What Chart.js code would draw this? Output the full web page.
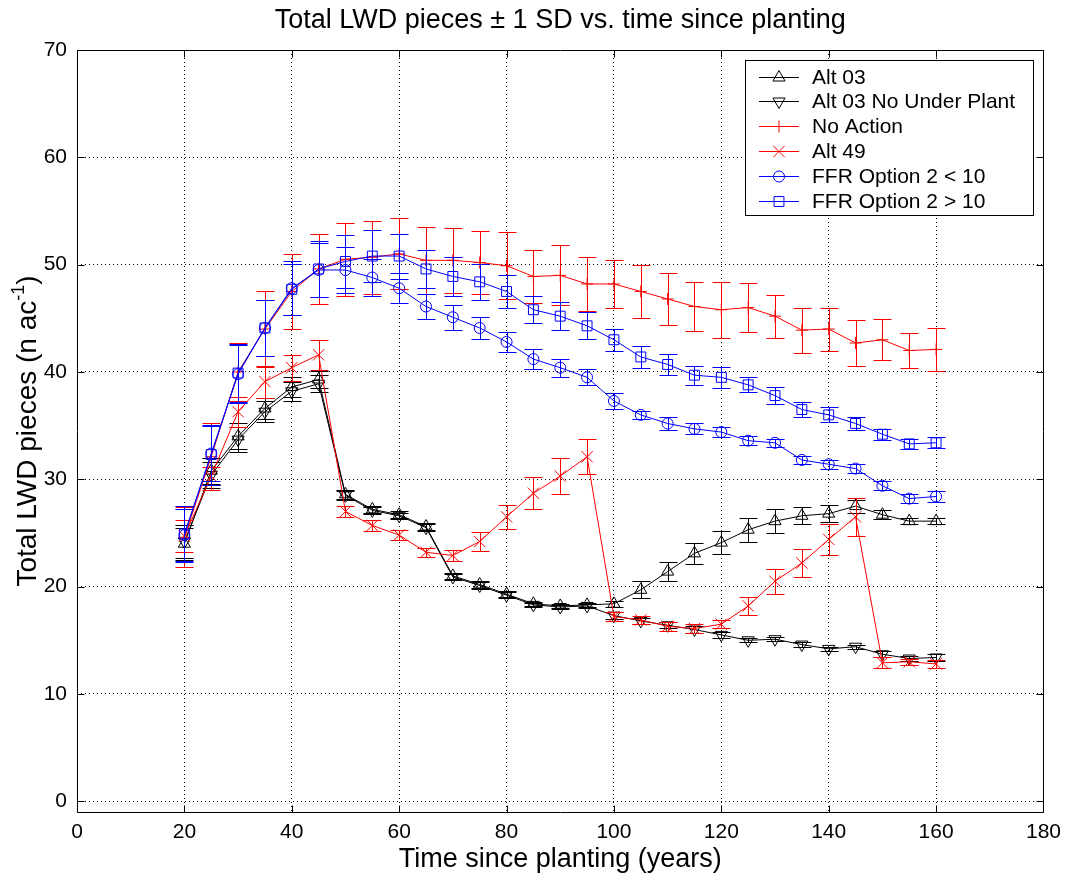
<!DOCTYPE html>
<html>
<head>
<meta charset="utf-8">
<script src="https://cdn.jsdelivr.net/npm/chart.js@4.4.0/dist/chart.umd.min.js"></script>
<style>
html, body { margin: 0; padding: 0; background: #fff; }
canvas { display: block; }
</style>
</head>
<body>
<canvas id="chart" width="1069" height="880"></canvas>
<script>
// years since planting, one sample every 5 years
const years = [20, 25, 30, 35, 40, 45, 50, 55, 60, 65, 70, 75, 80, 85, 90, 95,
    100, 105, 110, 115, 120, 125, 130, 135, 140, 145, 150, 155, 160]

const alt03 = [24.0, 30.8, 34.0, 36.6, 38.6, 39.3, 28.6, 27.2, 26.7, 25.6, 21.0, 20.2, 19.3, 18.4, 18.2, 18.3,
    18.4, 19.7, 21.4, 23.1, 24.1, 25.3, 26.1, 26.6, 26.8, 27.5, 26.7, 26.1, 26.1]
const alt03_sd = [1.5, 1.2, 1.2, 1.0, 0.9, 0.8, 0.4, 0.3, 0.3, 0.3, 0.3, 0.3, 0.3, 0.2, 0.2, 0.2,
    0.3, 0.8, 0.9, 1.0, 1.1, 1.1, 1.1, 0.8, 0.8, 0.6, 0.4, 0.3, 0.3]

const alt03_nup = [24.2, 30.4, 33.7, 36.3, 38.2, 38.9, 28.5, 27.1, 26.6, 25.5, 20.9, 20.1, 19.2, 18.3, 18.1, 18.2,
    17.3, 16.8, 16.4, 16.0, 15.5, 15.0, 15.1, 14.6, 14.2, 14.4, 13.7, 13.3, 13.4]
const alt03_nup_sd = [1.5, 1.2, 1.2, 1.0, 0.9, 0.8, 0.4, 0.3, 0.3, 0.3, 0.3, 0.3, 0.3, 0.2, 0.2, 0.2,
    0.3, 0.3, 0.3, 0.3, 0.3, 0.2, 0.2, 0.2, 0.2, 0.2, 0.3, 0.2, 0.3]

const no_action = [24.6, 32.1, 40.0, 44.0, 47.5, 49.6, 50.5, 50.7, 51.0, 50.4, 50.4, 50.2, 49.9, 48.9, 49.0, 48.2,
    48.2, 47.5, 46.8, 46.1, 45.8, 46.0, 45.2, 43.9, 44.0, 42.7, 43.0, 42.0, 42.1]
const no_action_sd = [2.8, 3.1, 2.7, 3.5, 3.5, 3.3, 3.4, 3.4, 3.3, 3.1, 3.0, 2.9, 3.1, 2.5, 2.8, 2.5,
    2.2, 2.5, 2.4, 2.3, 2.6, 2.3, 2.0, 2.1, 2.0, 2.1, 1.9, 1.6, 2.0]

const alt49 = [24.7, 30.3, 36.3, 39.1, 40.4, 41.6, 27.0, 25.7, 24.8, 23.2, 22.9, 24.2, 26.5, 28.7, 30.3, 32.1,
    17.2, 16.9, 16.3, 16.1, 16.5, 18.2, 20.5, 22.2, 24.4, 26.5, 12.9, 13.0, 12.8]
const alt49_sd = [1.5, 0.8, 1.4, 1.5, 1.2, 1.4, 0.5, 0.5, 0.5, 0.4, 0.5, 0.85, 1.15, 1.5, 1.7, 1.65,
    0.4, 0.4, 0.4, 0.4, 0.4, 0.8, 1.15, 1.3, 1.45, 1.8, 0.5, 0.3, 0.4]

const ffr_lt10 = [24.8, 32.4, 39.8, 44.1, 47.8, 49.5, 49.5, 48.8, 47.8, 46.1, 45.1, 44.1, 42.8, 41.2, 40.4, 39.5,
    37.3, 36.0, 35.2, 34.7, 34.4, 33.6, 33.4, 31.8, 31.4, 31.0, 29.4, 28.2, 28.4]
const ffr_lt10_sd = [2.4, 2.6, 2.7, 2.6, 2.5, 2.5, 2.1, 1.7, 1.4, 1.2, 1.15, 1.0, 0.9, 0.95, 0.85, 0.75,
    0.75, 0.4, 0.6, 0.5, 0.5, 0.4, 0.4, 0.4, 0.4, 0.4, 0.4, 0.4, 0.5]

const ffr_gt10 = [24.9, 32.3, 39.9, 44.1, 47.7, 49.6, 50.3, 50.8, 50.8, 49.6, 48.9, 48.4, 47.5, 45.8, 45.2, 44.3,
    43.0, 41.4, 40.7, 39.7, 39.5, 38.8, 37.8, 36.5, 36.0, 35.2, 34.2, 33.3, 33.4]
const ffr_gt10_sd = [2.6, 2.8, 2.7, 2.6, 2.4, 2.6, 2.5, 2.4, 2.1, 1.8, 1.8, 1.7, 1.5, 1.25, 1.3, 1.25,
    1.0, 1.0, 1.0, 0.9, 1.0, 0.7, 0.8, 0.7, 0.7, 0.6, 0.5, 0.5, 0.5]

const FONT = "'Liberation Sans', Arial, sans-serif"
const BLACK = '#000000'
const RED = '#ff0000'
const BLUE = '#0000ff'
const CLEAR = 'rgba(0,0,0,0)'

function series(label, values, sd, color, style, radius, rotation) {
    return {
        label: label,
        data: years.map((x, i) => ({ x: x, y: values[i] })),
        sd: sd,
        borderColor: color,
        borderWidth: 1,
        pointStyle: style,
        pointRadius: radius,
        pointRotation: rotation || 0,
        pointBorderColor: color,
        pointBackgroundColor: CLEAR,
        pointBorderWidth: 1,
        tension: 0,
        fill: false,
    }
}

const datasets = [
    series('Alt 03', alt03, alt03_sd, BLACK, 'triangle', 7),
    series('Alt 03 No Under Plant', alt03_nup, alt03_nup_sd, BLACK, 'triangle', 7, 180),
    series('No Action', no_action, no_action_sd, RED, 'cross', 6),
    series('Alt 49', alt49, alt49_sd, RED, 'crossRot', 8),
    series('FFR Option 2 < 10', ffr_lt10, ffr_lt10_sd, BLUE, 'circle', 5.5),
    series('FFR Option 2 > 10', ffr_gt10, ffr_gt10_sd, BLUE, 'rect', 7),
]
// later series are painted on top
datasets.forEach((d, i) => { d.order = datasets.length - i })

// vertical +/- 1 SD bars with caps, drawn right after each line
const error_bars = {
    id: 'error_bars',
    afterDatasetDraw(chart, args) {
        const ds = chart.data.datasets[args.index]
        if (!ds.sd) return
        const xs = chart.scales.x
        const ys = chart.scales.y
        const c = chart.ctx
        c.save()
        c.strokeStyle = ds.borderColor
        c.lineWidth = 1
        c.beginPath()
        ds.data.forEach((p, i) => {
            const px = Math.round(xs.getPixelForValue(p.x)) + 0.5
            const top = Math.round(ys.getPixelForValue(p.y + ds.sd[i])) + 0.5
            const bot = Math.round(ys.getPixelForValue(p.y - ds.sd[i])) + 0.5
            c.moveTo(px, top)
            c.lineTo(px, bot)
            c.moveTo(px - 9, top)
            c.lineTo(px + 9, top)
            c.moveTo(px - 9, bot)
            c.lineTo(px + 9, bot)
        })
        c.stroke()
        c.restore()
    }
}

// title, solid box round the plot with inward tick marks, y title and legend
const frame = {
    id: 'frame',
    afterDraw(chart) {
        const c = chart.ctx
        const a = chart.chartArea
        const xs = chart.scales.x
        const ys = chart.scales.y
        const l = Math.round(a.left) + 0.5
        const r = Math.round(a.right) + 0.5
        const t = Math.round(a.top) + 0.5
        const b = Math.round(a.bottom) + 0.5
        c.save()
        c.strokeStyle = BLACK
        c.lineWidth = 1
        c.beginPath()
        c.rect(l, t, r - l, b - t)
        xs.ticks.forEach((tk) => {
            const px = Math.round(xs.getPixelForValue(tk.value)) + 0.5
            c.moveTo(px, b); c.lineTo(px, b - 7)
            c.moveTo(px, t); c.lineTo(px, t + 7)
        })
        ys.ticks.forEach((tk) => {
            const py = Math.round(ys.getPixelForValue(tk.value)) + 0.5
            c.moveTo(l, py); c.lineTo(l + 7, py)
            c.moveTo(r, py); c.lineTo(r - 7, py)
        })
        c.stroke()

        c.fillStyle = BLACK
        c.textAlign = 'center'
        c.textBaseline = 'middle'
        c.font = '27px ' + FONT
        c.fillText('Total LWD pieces \u00b1 1 SD vs. time since planting', (a.left + a.right) / 2, 21)

        // y axis title with a raised "-1"
        c.translate(28, (a.top + a.bottom) / 2)
        c.rotate(-Math.PI / 2)
        c.textAlign = 'left'
        const main = 'Total LWD pieces (n ac'
        const sup = '-1'
        c.font = '28px ' + FONT
        const w1 = c.measureText(main).width
        const w3 = c.measureText(')').width
        c.font = '18px ' + FONT
        const w2 = c.measureText(sup).width
        const x0 = -(w1 + w2 + w3) / 2
        c.font = '28px ' + FONT
        c.fillText(main, x0, 0)
        c.font = '18px ' + FONT
        c.fillText(sup, x0 + w1, -9)
        c.font = '28px ' + FONT
        c.fillText(')', x0 + w1 + w2, 0)
        c.restore()

        // legend
        const lx = 745.5, ly = 60.5, lw = 288, lh = 155
        c.save()
        c.fillStyle = '#ffffff'
        c.fillRect(lx, ly, lw, lh)
        c.strokeStyle = BLACK
        c.lineWidth = 1
        c.strokeRect(lx, ly, lw, lh)
        c.font = '21px ' + FONT
        c.textBaseline = 'middle'
        c.textAlign = 'left'
        chart.data.datasets.forEach((ds, i) => {
            const ry = Math.round(ly + 16 + i * 24.9) + 0.5
            c.strokeStyle = ds.borderColor
            c.fillStyle = CLEAR
            c.lineWidth = 1
            c.beginPath()
            c.moveTo(759, ry)
            c.lineTo(799, ry)
            c.stroke()
            Chart.helpers.drawPoint(c, {
                pointStyle: ds.pointStyle,
                radius: ds.pointRadius,
                rotation: ds.pointRotation,
                borderWidth: 1,
            }, 779, ry)
            c.fillStyle = BLACK
            c.fillText(ds.label, 812, ry + 1)
        })
        c.restore()
    }
}

new Chart(document.getElementById('chart'), {
    type: 'line',
    data: { datasets: datasets },
    plugins: [error_bars, frame],
    options: {
        responsive: false,
        animation: false,
        devicePixelRatio: 1,
        events: [],
        layout: { padding: { left: 0, right: 24, top: 50, bottom: 0 } },
        plugins: {
            legend: { display: false },
            tooltip: { enabled: false },
            title: { display: false },
        },
        scales: {
            x: {
                type: 'linear',
                min: 0,
                max: 180,
                afterFit(scale) { scale.height = 68 },
                ticks: {
                    stepSize: 20,
                    color: BLACK,
                    font: { family: FONT, size: 21 },
                    padding: 8,
                    maxRotation: 0,
                },
                grid: { color: BLACK, lineWidth: 1, drawTicks: false },
                border: { display: false, dash: [1, 3] },
                title: {
                    display: true,
                    text: 'Time since planting (years)',
                    color: BLACK,
                    font: { family: FONT, size: 27 },
                    padding: { top: 0, bottom: 4 },
                },
            },
            y: {
                type: 'linear',
                min: -1,
                max: 70,
                afterFit(scale) { scale.width = 77 },
                ticks: {
                    stepSize: 10,
                    includeBounds: false,
                    color: BLACK,
                    font: { family: FONT, size: 21 },
                    padding: 10,
                },
                grid: { color: BLACK, lineWidth: 1, drawTicks: false },
                border: { display: false, dash: [1, 3] },
            },
        },
    },
})
</script>
</body>
</html>
